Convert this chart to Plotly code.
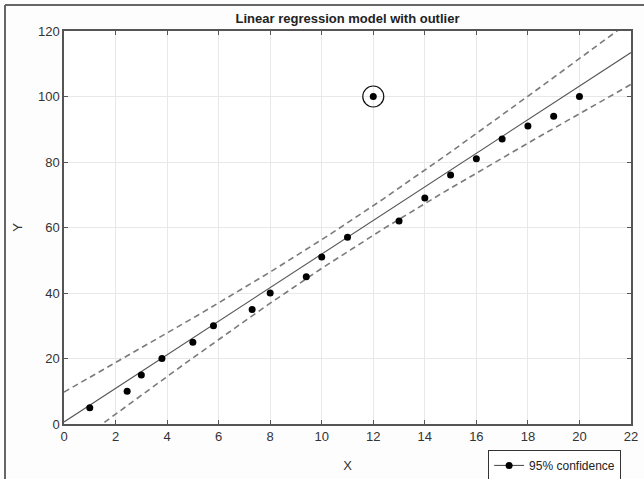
import numpy as np
import plotly.graph_objects as go

# Data
x_vals = [1, 2.45, 3, 3.8, 5, 5.8, 7.3, 8, 9.4, 10, 11, 12, 13, 14, 15, 16, 17, 18, 19, 20]
y_vals = [5, 10, 15, 20, 25, 30, 35, 40, 45, 51, 57, 100, 62, 69, 76, 81, 87, 91, 94, 100]
outlier_x = [12]
outlier_y = [100]
x_ticks = [0, 2, 4, 6, 8, 10, 12, 14, 16, 18, 20, 22]
y_ticks = [0, 20, 40, 60, 80, 100, 120]
T_975_DF = 2.1009  # Student t, 95%, df = n - 2 = 18

x = np.array(x_vals)
y = np.array(y_vals)
n = len(x)
slope, intercept = np.polyfit(x, y, 1)
resid = y - (intercept + slope * x)
s = np.sqrt(np.sum(resid ** 2) / (n - 2))
sxx = np.sum((x - x.mean()) ** 2)

xf = np.linspace(x_ticks[0], x_ticks[-1], 200)
yf = intercept + slope * xf
half = T_975_DF * s * np.sqrt(1.0 / n + (xf - x.mean()) ** 2 / sxx)

font_main = "Liberation Sans Narrow, Arial Narrow, Liberation Sans, Arial, sans-serif"

fig = go.Figure()
fig.add_trace(go.Scatter(x=xf, y=yf + half, mode="lines",
                         line=dict(color="#7a7a7a", width=1.6, dash="6px,4px"),
                         showlegend=False, hoverinfo="skip"))
fig.add_trace(go.Scatter(x=xf, y=yf - half, mode="lines",
                         line=dict(color="#7a7a7a", width=1.6, dash="6px,4px"),
                         showlegend=False, hoverinfo="skip"))
fig.add_trace(go.Scatter(x=xf, y=yf, mode="lines",
                         line=dict(color="#555555", width=1.1),
                         showlegend=False, hoverinfo="skip"))
fig.add_trace(go.Scatter(x=x_vals, y=y_vals, mode="markers",
                         marker=dict(color="#000000", size=7),
                         showlegend=False))
fig.add_trace(go.Scatter(x=outlier_x, y=outlier_y, mode="markers",
                         marker=dict(symbol="circle-open", size=21, color="#111111",
                                     line=dict(width=1.2, color="#111111")),
                         showlegend=False))
fig.add_trace(go.Scatter(x=[None], y=[None], mode="lines+markers", name="95% confidence",
                         line=dict(color="#555555", width=1.1),
                         marker=dict(color="#000000", size=7)))

axis_common = dict(
    showline=True, linecolor="#555555", linewidth=1.5, mirror="ticks",
    ticks="inside", ticklen=4, tickcolor="#555555",
    showgrid=True, gridcolor="#e8e8e8", gridwidth=1, zeroline=False,
    automargin=False,
    tickfont=dict(family=font_main, size=13, color="#333333"),
)

fig.update_layout(
    width=644, height=479,
    margin=dict(l=64, r=13, t=31, b=55, autoexpand=False),
    paper_bgcolor="#fdfdfd", plot_bgcolor="#ffffff",
    title=dict(text="<b>Linear regression model with outlier</b>", x=0.5, xref="paper",
               y=1, yref="container", yanchor="top", pad=dict(t=14),
               font=dict(family=font_main, size=13, color="#222222")),
    xaxis=dict(range=[0, 22], tickvals=x_ticks,
               title=dict(text="X", standoff=18, font=dict(family=font_main, size=13, color="#333333")),
               **axis_common),
    yaxis=dict(range=[0, 120], tickvals=y_ticks,
               title=dict(text="Y", standoff=12, font=dict(family=font_main, size=13, color="#333333")),
               **axis_common),
    legend=dict(x=0.748, y=-0.066, xanchor="left", yanchor="top",
                bordercolor="#333333", borderwidth=1, bgcolor="#ffffff",
                font=dict(family=font_main, size=12, color="#222222"),
                itemwidth=30, tracegroupgap=0),
    showlegend=True,
)

# outer frame
fig.add_shape(type="line", xref="paper", yref="paper",
              x0=-59 / 567, x1=1.03, y0=(424 - 5) / 393, y1=(424 - 5) / 393,
              line=dict(color="#666666", width=2))
fig.add_shape(type="line", xref="paper", yref="paper",
              x0=-59 / 567, x1=-59 / 567, y0=(424 - 5) / 393, y1=-0.14,
              line=dict(color="#666666", width=2))

fig.write_html("out.html", config={"displayModeBar": False},
               post_script="document.body.style.margin='0px';document.body.style.overflow='hidden';")
